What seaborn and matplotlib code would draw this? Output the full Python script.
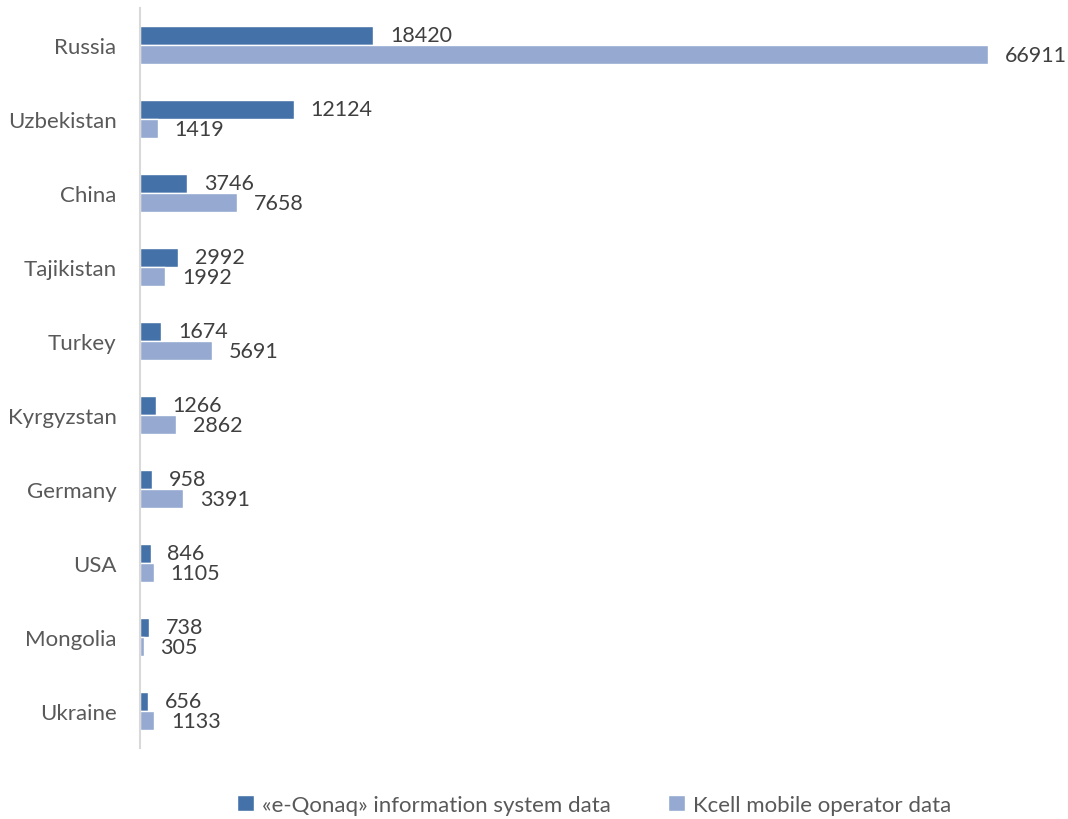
import matplotlib
matplotlib.use("Agg")
import matplotlib.pyplot as plt
import seaborn as sns
import pandas as pd

countries = ["Russia", "Uzbekistan", "China", "Tajikistan", "Turkey",
             "Kyrgyzstan", "Germany", "USA", "Mongolia", "Ukraine"]
eqonaq = [18420, 12124, 3746, 2992, 1674, 1266, 958, 846, 738, 656]
kcell = [66911, 1419, 7658, 1992, 5691, 2862, 3391, 1105, 305, 1133]
series_names = ["«e-Qonaq» information system data", "Kcell mobile operator data"]
colors = ["#4472A8", "#95A9D1"]

df = pd.DataFrame({
    "country": countries * 2,
    "value": eqonaq + kcell,
    "source": [series_names[0]] * len(countries) + [series_names[1]] * len(countries),
})

sns.set_theme(style="white")
plt.rcParams["font.family"] = ["Lato", "DejaVu Sans"]

fig = plt.figure(figsize=(10.68, 8.2), dpi=100)
ax = fig.add_axes([140 / 1068, 71 / 820, 887 / 1068, 740 / 820])

sns.barplot(data=df, y="country", x="value", hue="source", order=countries,
            hue_order=series_names, palette=colors, orient="h", width=0.52,
            saturation=1, ax=ax, legend=True)

for cont in ax.containers:
    ax.bar_label(cont, labels=[f"{int(v)}" for v in cont.datavalues],
                 padding=12, fontsize=15.5, color="#404040")

ax.set_xlim(0, 70000)
ax.set_ylim(len(countries) - 0.5, -0.5)
ax.set_xlabel("")
ax.set_ylabel("")
ax.set_xticks([])
ax.tick_params(axis="y", labelsize=16, labelcolor="#595959", length=0, pad=17)
for side in ["top", "right", "bottom"]:
    ax.spines[side].set_visible(False)
ax.spines["left"].set_color("#D9D9D9")
ax.spines["left"].set_linewidth(1.5)

handles, labels = ax.get_legend_handles_labels()
ax.get_legend().remove()
fig.legend(handles, labels, loc="center", bbox_to_anchor=(594 / 1068, 1 - 806 / 820),
           ncol=2, frameon=False, fontsize=16, labelcolor="#595959",
           handlelength=0.75, handleheight=0.75, handletextpad=0.35, columnspacing=2.6)

fig.savefig("out.png", dpi=100)
